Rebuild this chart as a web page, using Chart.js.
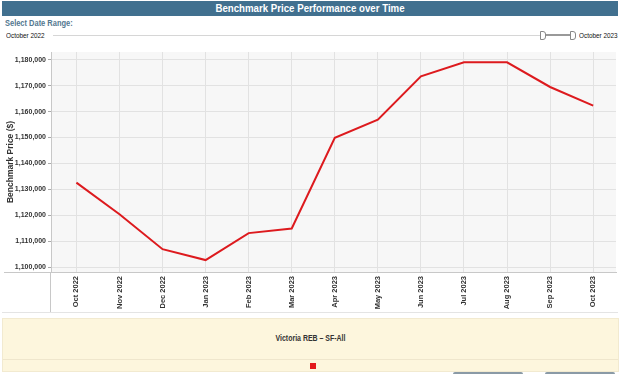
<!DOCTYPE html>
<html lang="en">
<head>
    <meta charset="UTF-8">
    <title>Benchmark Price Performance over Time</title>
    <script src="https://cdn.jsdelivr.net/npm/chart.js"></script>
    <style>
        body {
            margin: 0;
            width: 620px;
            height: 374px;
            overflow: hidden;
            background: #fff;
            font-family: Arial, "Liberation Sans", sans-serif;
            position: relative;
        }
        #titleBar {
            position: absolute;
            left: 2px; top: 1px; width: 616px; height: 15px;
            background: #41708f;
        }
        #titleBar span {
            display: block;
            color: #fff;
            font-weight: bold;
            font-size: 11px;
            line-height: 15px;
            text-align: center;
            transform: scaleX(0.88);
        }
        #rangeLabel {
            position: absolute;
            left: 5px; top: 18px;
            color: #52778f;
            font-weight: bold;
            font-size: 9px;
            transform: scaleX(0.83);
            transform-origin: left;
        }
        .rangeText {
            position: absolute;
            top: 31px;
            font-size: 7.5px;
            color: #111;
            white-space: nowrap;
            transform: scaleX(0.85);
            transform-origin: left;
        }
        #track {
            position: absolute;
            left: 53px; top: 35px; width: 520px; height: 1px;
            background: #d6d6d6;
        }
        #trackSel {
            position: absolute;
            left: 545px; top: 34px; width: 28px; height: 2px;
            background: #999;
        }
        .handle {
            position: absolute;
            top: 31px; width: 4px; height: 7px;
            border: 1px solid #888;
            border-radius: 0 3px 3px 0;
            background: #fff;
        }
        #chartBox {
            position: absolute;
            left: 0; top: 44px; width: 620px; height: 274px;
        }
        #legendBox {
            position: absolute;
            left: 2px; top: 318px; width: 615px; height: 52px;
            background: #fdf6dd;
            border: 1px solid #f2ead0;
        }
        #legendText {
            position: absolute;
            left: 0; top: 14px; width: 100%;
            text-align: center;
            font-size: 8.5px;
            font-weight: bold;
            color: #333;
            transform: scaleX(0.82);
        }
        #legendSep {
            position: absolute;
            left: 0; top: 40px; width: 100%; height: 1px;
            background: #efe6cc;
        }
        #legendSwatch {
            position: absolute;
            left: 307px; top: 44px; width: 6px; height: 6px;
            background: #e31a1c;
        }
        .btn {
            position: absolute;
            top: 372px; width: 70px; height: 6px;
            background: #8a9aa6;
            border-radius: 2px;
        }
    </style>
</head>
<body>
    <div id="titleBar"><span>Benchmark Price Performance over Time</span></div>
    <div id="rangeLabel">Select Date Range:</div>
    <div class="rangeText" style="left:6px;">October 2022</div>
    <div id="track"></div>
    <div id="trackSel"></div>
    <div class="handle" style="left:540px;"></div>
    <div class="handle" style="left:570px;"></div>
    <div class="rangeText" style="left:579px;">October 2023</div>

    <div id="chartBox"><canvas id="priceChart"></canvas></div>

    <div id="legendBox">
        <div id="legendText">Victoria REB – SF-All</div>
        <div id="legendSep"></div>
        <div id="legendSwatch"></div>
    </div>
    <div class="btn" style="left:453px;"></div>
    <div class="btn" style="left:545px;"></div>

    <script>
        // Months shown on the x axis
        const months = ['Oct 2022', 'Nov 2022', 'Dec 2022', 'Jan 2023', 'Feb 2023', 'Mar 2023',
            'Apr 2023', 'May 2023', 'Jun 2023', 'Jul 2023', 'Aug 2023', 'Sep 2023', 'Oct 2023'];

        // Benchmark price, Victoria REB SF-All
        const benchmarkPrice = [1132600, 1120400, 1106900, 1102700, 1113100, 1114900,
            1149900, 1156900, 1173600, 1179000, 1179000, 1169500, 1162300];

        // Y axis tick values
        const priceTicks = [1100000, 1110000, 1120000, 1130000, 1140000, 1150000, 1160000, 1170000, 1180000];

        // extra frame lines around the plot like the original table layout
        const frameLines = {
            id: 'frameLines',
            afterDraw(chart) {
                const { ctx, chartArea } = chart;
                ctx.save();
                ctx.strokeStyle = '#c8c8c8';
                ctx.lineWidth = 1;
                ctx.beginPath();
                ctx.moveTo(4, Math.round(chartArea.bottom) + 0.5);
                ctx.lineTo(chartArea.left, Math.round(chartArea.bottom) + 0.5);
                ctx.moveTo(Math.round(chartArea.left) - 0.5, chartArea.bottom);
                ctx.lineTo(Math.round(chartArea.left) - 0.5, chartArea.bottom + 40);
                ctx.stroke();
                ctx.strokeStyle = '#e4e4e4';
                ctx.beginPath();
                ctx.moveTo(2, chartArea.bottom + 40.5);
                ctx.lineTo(618, chartArea.bottom + 40.5);
                ctx.stroke();
                ctx.restore();
            }
        };

        const plotBackground = {
            id: 'plotBackground',
            beforeDraw(chart) {
                const { ctx, chartArea } = chart;
                ctx.save();
                ctx.fillStyle = '#f7f7f7';
                ctx.fillRect(chartArea.left, chartArea.top, chartArea.width, chartArea.height);
                ctx.restore();
            }
        };

        const ctx = document.getElementById('priceChart').getContext('2d');
        const chart = new Chart(ctx, {
            type: 'line',
            data: {
                datasets: [{
                    label: 'Victoria REB – SF-All',
                    data: benchmarkPrice.map((v, i) => ({ x: i, y: v })),
                    borderColor: '#dd1a1e',
                    borderWidth: 2,
                    pointRadius: 0,
                    tension: 0,
                    fill: false
                }]
            },
            options: {
                responsive: true,
                maintainAspectRatio: false,
                animation: false,
                layout: { padding: { left: 6, right: 4, top: 8, bottom: 1 } },
                plugins: {
                    legend: { display: false },
                    tooltip: { enabled: false }
                },
                scales: {
                    x: {
                        type: 'linear',
                        min: -0.59,
                        max: 12.53,
                        afterBuildTicks(axis) {
                            axis.ticks = months.map((m, i) => ({ value: i }));
                        },
                        afterFit(axis) { axis.height = 45; },
                        ticks: {
                            autoSkip: false,
                            maxRotation: 90,
                            minRotation: 90,
                            padding: 4,
                            color: '#333',
                            font: { family: 'Arial', size: 7.5, weight: 'bold' },
                            callback: (v) => months[v]
                        },
                        grid: { color: '#e2e2e2', drawTicks: false },
                        border: { color: '#c8c8c8' }
                    },
                    y: {
                        min: 1098100,
                        max: 1183000,
                        afterBuildTicks(axis) {
                            axis.ticks = priceTicks.map(v => ({ value: v }));
                        },
                        afterFit(axis) { axis.width = 45; },
                        ticks: {
                            color: '#333',
                            padding: 2,
                            font: { family: 'Arial', size: 7, weight: 'bold' },
                            callback: (v) => v.toLocaleString('en-US')
                        },
                        grid: { color: '#e2e2e2', tickLength: 3, tickColor: '#aaa' },
                        border: { color: '#c8c8c8' },
                        title: {
                            display: true,
                            text: 'Benchmark Price ($)',
                            color: '#333',
                            padding: 0,
                            font: { family: 'Arial', size: 8.5, weight: 'bold' }
                        }
                    }
                }
            },
            plugins: [plotBackground, frameLines]
        });
    </script>
</body>
</html>
